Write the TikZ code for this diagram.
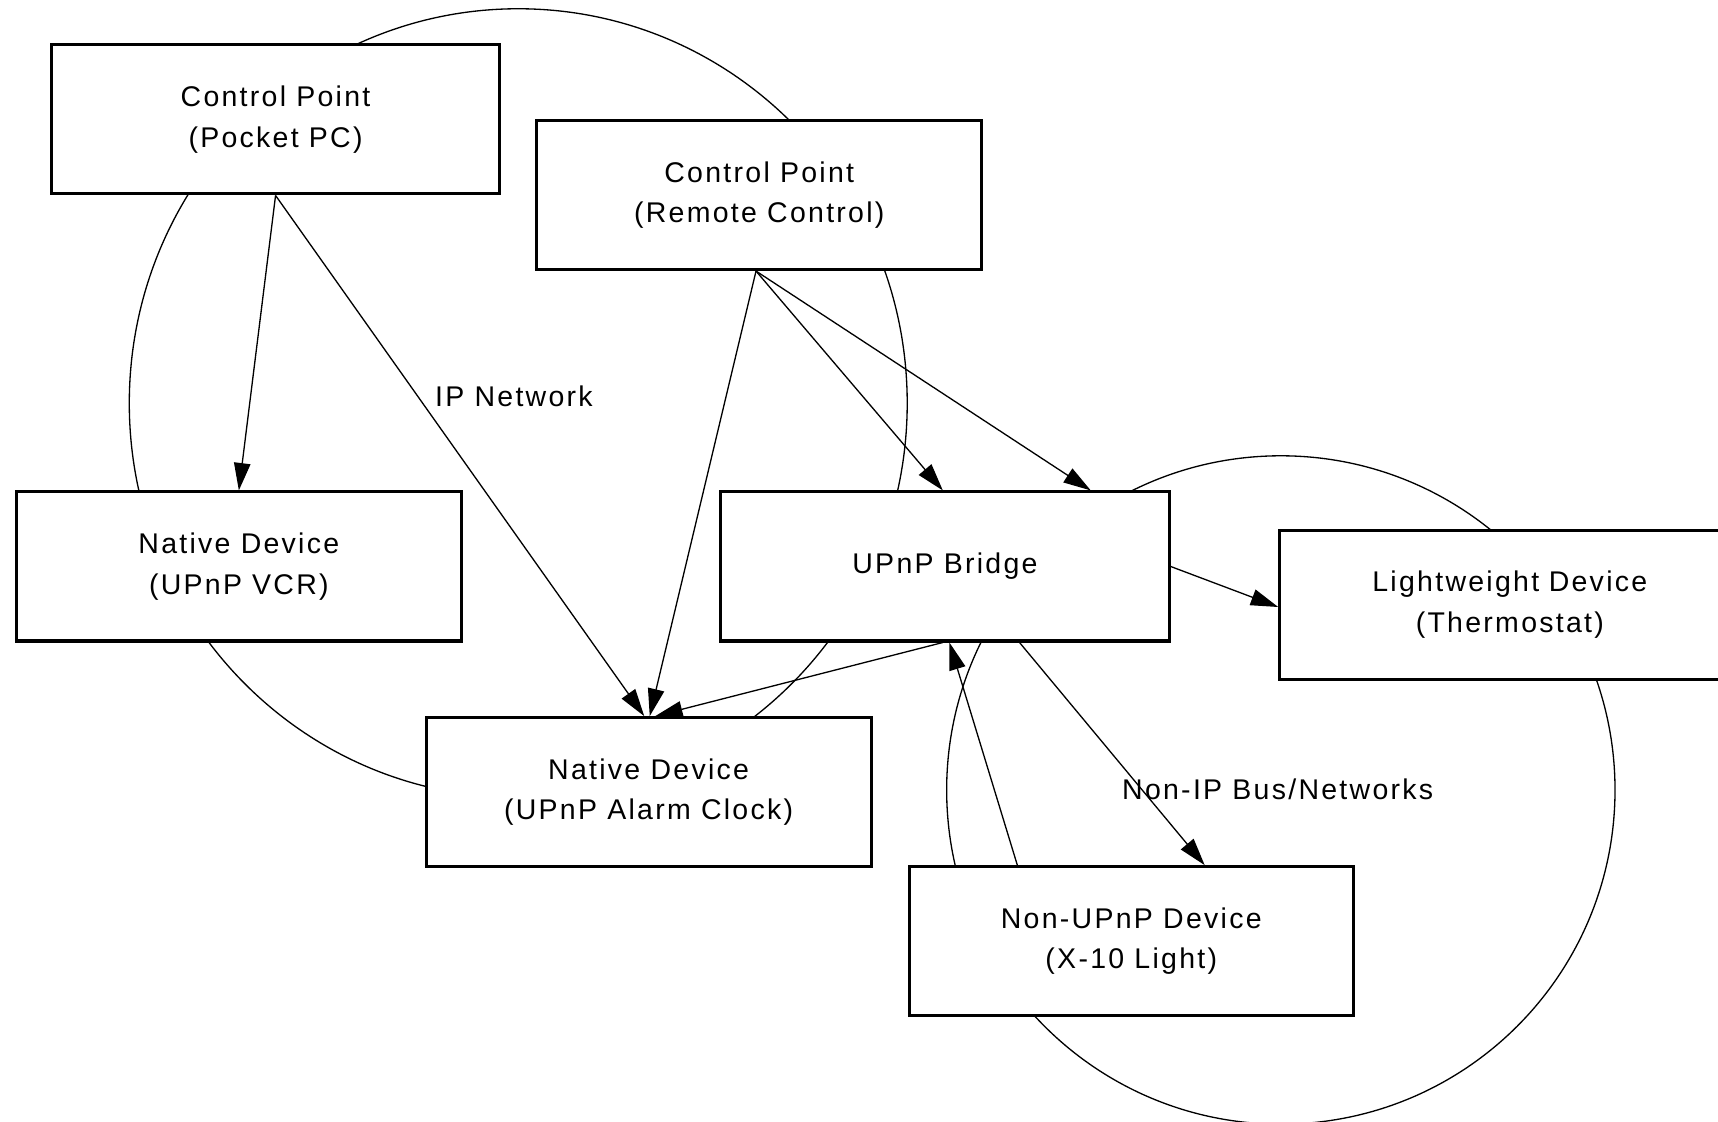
\documentclass[tikz,border=0pt]{standalone}
\usepackage{fontspec}
\newfontfamily\labfont{Liberation Sans}[LetterSpace=8]
\usetikzlibrary{arrows.meta}
\tikzset{
  box/.style={draw, line width=2.8pt, fill=white, minimum height=136pt, inner sep=0pt, align=center,
              font=\labfont\fontsize{26}{37}\selectfont},
  conn/.style={line width=1.2pt},
  arr/.style={conn, -{Triangle[length=25pt,width=15pt]}},
  lbl/.style={font=\labfont\fontsize{26}{37}\selectfont, inner sep=0pt, anchor=west}
}
\begin{document}
\begin{tikzpicture}[x=1pt,y=-1pt]
\fill[white] (0,0) rectangle (1568,1024);
\useasboundingbox (0,0) rectangle (1568,1024);
% networks
\draw[conn] (473,368) ellipse [x radius=355pt, y radius=360pt];
\draw[conn] (1169,721) circle [radius=305pt];
% boxes
\node[box, minimum width=409pt] (pp) at (251.5,109) {Control Point\\(Pocket PC)};
\node[box, minimum width=406pt] (rc) at (693,178) {Control Point\\(Remote Control)};
\node[box, minimum width=406pt] (vcr) at (218,517) {Native Device\\(UPnP VCR)};
\node[box, minimum width=409pt] (br) at (862.5,517) {UPnP Bridge};
\node[box, minimum width=420pt, text width=410pt] (th) at (1378,552) {Lightweight Device\\(Thermostat)};
\node[box, minimum width=406pt] (ac) at (592,723) {Native Device\\(UPnP Alarm Clock)};
\node[box, minimum width=405pt] (x10) at (1032.5,859) {Non-UPnP Device\\(X-10 Light)};
% labels
\node[lbl] (ipn) at (397,362) {IP Network};
\node[lbl] (nip) at (1024,720) {Non-IP Bus/Networks};
% connectors
\draw[arr] (pp.south) -- (vcr.north);
\draw[arr] (pp.south) -- ([xshift=-4pt]ac.north);
\draw[arr] ([xshift=-3pt]rc.south) -- ([xshift=1pt]ac.north);
\draw[arr] ([xshift=-3pt]rc.south) -- ([xshift=-2pt]br.north);
\draw[arr] ([xshift=-3pt]rc.south) -- ([xshift=133pt]br.north);
\draw[arr] ([xshift=-2pt]br.south) -- ([xshift=6pt]ac.north);
\draw[arr] ([yshift=0pt]br.east) -- ([yshift=-2pt]th.west);
\draw[arr] ([xshift=68pt]br.south) -- ([xshift=67pt]x10.north);
\draw[arr] ([xshift=-104pt]x10.north) -- ([xshift=4pt]br.south);
\end{tikzpicture}
\end{document}
